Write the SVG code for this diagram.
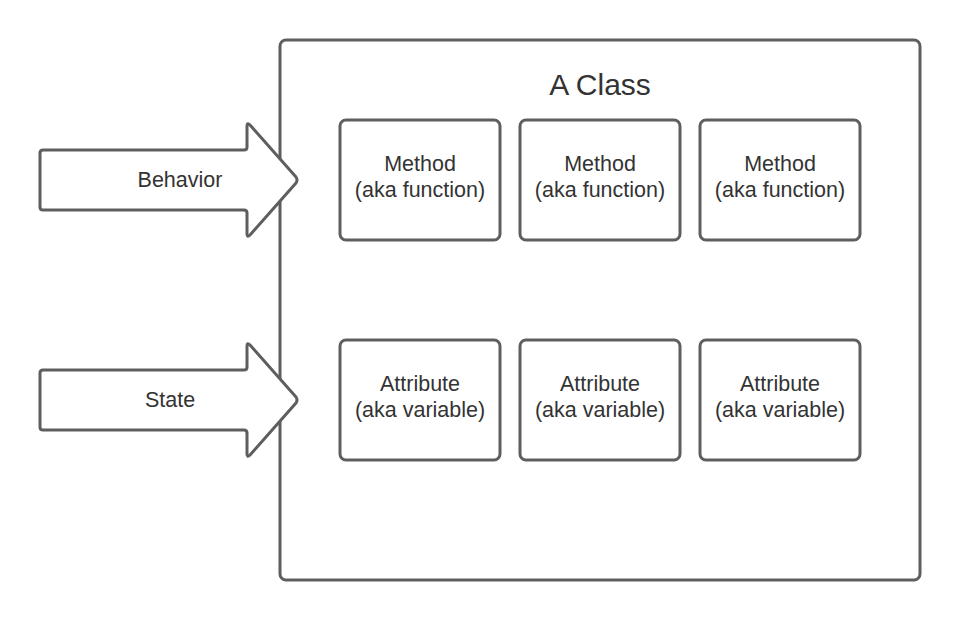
<svg xmlns="http://www.w3.org/2000/svg" width="960" height="620" viewBox="0 0 960 620">
<style>
.shape{fill:#ffffff;stroke:#5e5e5e;stroke-width:3;stroke-linejoin:round}
.t{font-family:"Liberation Sans",Arial,sans-serif;font-size:21.5px;fill:#333333;text-anchor:middle}
</style>
<rect width="960" height="620" fill="#ffffff"/>
<g id="class">
<rect class="shape" x="280" y="40" width="640" height="540" rx="6"/>
<text class="t" x="600" y="95" style="font-size:30px">A Class</text>
</g>
<g id="m1"><rect class="shape" x="340" y="120" width="160" height="120" rx="6"/><text class="t" x="420" y="171">Method</text><text class="t" x="420" y="197">(aka function)</text></g>
<g id="m2"><rect class="shape" x="520" y="120" width="160" height="120" rx="6"/><text class="t" x="600" y="171">Method</text><text class="t" x="600" y="197">(aka function)</text></g>
<g id="m3"><rect class="shape" x="700" y="120" width="160" height="120" rx="6"/><text class="t" x="780" y="171">Method</text><text class="t" x="780" y="197">(aka function)</text></g>
<g id="a1"><rect class="shape" x="340" y="340" width="160" height="120" rx="6"/><text class="t" x="420" y="391">Attribute</text><text class="t" x="420" y="417">(aka variable)</text></g>
<g id="a2"><rect class="shape" x="520" y="340" width="160" height="120" rx="6"/><text class="t" x="600" y="391">Attribute</text><text class="t" x="600" y="417">(aka variable)</text></g>
<g id="a3"><rect class="shape" x="700" y="340" width="160" height="120" rx="6"/><text class="t" x="780" y="391">Attribute</text><text class="t" x="780" y="417">(aka variable)</text></g>
<g id="connectors">
<g id="behavior">
<path class="shape" d="M40,153 Q40,150 43,150 L244,150 Q247,150 247,147 L247,126 Q247,122 250,125 L296,177 Q298,180 296,183 L250,235 Q247,238 247,234 L247,213 Q247,210 244,210 L43,210 Q40,210 40,207 Z"/>
<text class="t" x="180" y="187">Behavior</text>
</g>
<g id="state">
<path class="shape" d="M40,373 Q40,370 43,370 L244,370 Q247,370 247,367 L247,346 Q247,342 250,345 L296,397 Q298,400 296,403 L250,455 Q247,458 247,454 L247,433 Q247,430 244,430 L43,430 Q40,430 40,427 Z"/>
<text class="t" x="170" y="407">State</text>
</g>
</g>
</svg>
